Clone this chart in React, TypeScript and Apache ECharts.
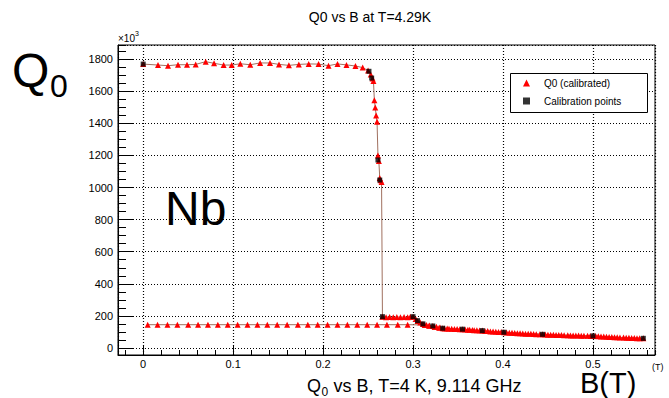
import React, { useEffect, useRef } from "react";
import * as echarts from "echarts";

const FONT = '"Liberation Sans", Arial, Helvetica, sans-serif';

// Axis ranges (B in tesla, Q0 in units of 10^3)
const X_MIN = -0.028;
const X_MAX = 0.569;
const Y_MIN = -44;
const Y_MAX = 1889;

// Q0 (calibrated): ramp up of B (superconducting plateau, transition, tail)
const upB = [
  0, 0.0165, 0.0276, 0.0387, 0.0487, 0.0584, 0.0695, 0.0788, 0.0894, 0.0984,
  0.108, 0.119, 0.13, 0.141, 0.151, 0.162, 0.173, 0.184, 0.195, 0.206, 0.216,
  0.226, 0.236, 0.244, 0.25, 0.253, 0.255, 0.256, 0.257, 0.258, 0.259, 0.26,
  0.261, 0.262, 0.263, 0.264, 0.265, 0.266, 0.27, 0.274, 0.278, 0.282, 0.286,
  0.29, 0.294, 0.297, 0.3, 0.303, 0.305, 0.308, 0.311, 0.315, 0.318, 0.322,
  0.326, 0.33, 0.333, 0.338, 0.343, 0.349, 0.355, 0.361, 0.366, 0.371, 0.377,
  0.383, 0.389, 0.395, 0.401, 0.407, 0.413, 0.419, 0.425, 0.431, 0.437, 0.444,
  0.45, 0.456, 0.462, 0.468, 0.475, 0.481, 0.487, 0.494, 0.5, 0.506, 0.512,
  0.518, 0.524, 0.53, 0.537, 0.543, 0.549, 0.556,
];
const upQ = [
  1770, 1764, 1760, 1766, 1766, 1768, 1785, 1775, 1764, 1764, 1772, 1766, 1777,
  1777, 1768, 1762, 1768, 1771, 1770, 1760, 1771, 1765, 1758, 1748, 1730, 1705,
  1680, 1665, 1545, 1500, 1450, 1410, 1200, 1165, 1060, 1045, 1035, 195, 192,
  193, 191, 193, 192, 193, 191, 194, 195, 180, 168, 158, 150, 143, 140, 137,
  132, 128, 123, 121, 119, 118, 117, 114, 112, 110, 108, 105, 102, 100, 98, 95,
  93, 91, 89, 88, 86, 85, 83, 82, 80, 79, 78, 77, 76, 76, 75, 73, 71, 69, 67,
  65, 64, 62, 61, 60,
];

// Q0 (calibrated): ramp down of B (tail back, then trapped-flux branch)
const downB = [
  0.552, 0.546, 0.54, 0.534, 0.527, 0.521, 0.515, 0.509, 0.503, 0.497, 0.49,
  0.484, 0.478, 0.472, 0.465, 0.459, 0.453, 0.447, 0.441, 0.434, 0.428, 0.422,
  0.416, 0.41, 0.404, 0.398, 0.392, 0.386, 0.38, 0.374, 0.368, 0.363, 0.358,
  0.352, 0.346, 0.34, 0.335, 0.329, 0.324, 0.318, 0.313, 0.294, 0.283, 0.271,
  0.26, 0.249, 0.238, 0.227, 0.216, 0.205, 0.194, 0.183, 0.172, 0.16, 0.149,
  0.138, 0.127, 0.116, 0.105, 0.094, 0.083, 0.072, 0.061, 0.05, 0.038, 0.027,
  0.016, 0.005,
];
const downQ = [
  61, 62, 63, 65, 66, 68, 70, 72, 74, 75, 76, 77, 78, 79, 80, 81, 83, 84, 86,
  87, 88, 90, 92, 94, 97, 99, 101, 103, 106, 109, 111, 113, 115, 117, 118, 120,
  122, 126, 130, 138, 143, 145, 145, 145, 145, 145, 145, 145, 145, 145, 145,
  145, 145, 145, 145, 145, 145, 145, 145, 145, 145, 145, 145, 145, 145, 145,
  145, 145,
];

// Calibration points
const calB = [
  0, 0.251, 0.254, 0.261, 0.263, 0.266, 0.3, 0.305, 0.311, 0.322, 0.333, 0.355,
  0.377, 0.401, 0.444, 0.5, 0.556,
];
const calQ = [
  1770, 1725, 1683, 1172, 1047, 195, 195, 170, 150, 137, 123, 117, 108, 98, 85,
  75, 60,
];

const SERIES_Q0 = "Q0 (calibrated)";
const SERIES_CAL = "Calibration points";

function buildOption(): echarts.EChartsOption {
  const q0Data: number[][] = [];
  upB.forEach((b, i) => q0Data.push([b, upQ[i]]));
  downB.forEach((b, i) => q0Data.push([b, downQ[i]]));
  const calData = calB.map((b, i) => [b, calQ[i]]);

  const black = "#000";
  const grid = { color: black, type: [1, 2] as number[], width: 1.2 };
  const text = (
    x: number,
    y: number,
    t: string,
    size: number,
    vAlign = "middle",
  ) => ({
    type: "text",
    x,
    y,
    silent: true,
    z: 6,
    style: {
      text: t,
      fill: black,
      font: `${size}px ${FONT}`,
      textAlign: "left",
      textVerticalAlign: vAlign,
    },
  });

  return {
    animation: false,
    backgroundColor: "#fff",
    title: {
      text: "Q0 vs B at T=4.29K",
      left: 370,
      top: 10,
      textAlign: "center",
      padding: 0,
      textStyle: { fontSize: 14, fontWeight: "normal", color: black, fontFamily: FONT },
    },
    grid: {
      left: 118,
      top: 45,
      right: 14,
      bottom: 43,
      show: true,
      borderColor: black,
      borderWidth: 1,
      backgroundColor: "transparent",
    },
    legend: {
      left: 523,
      top: 78,
      orient: "vertical",
      padding: 0,
      itemWidth: 7,
      itemHeight: 7,
      itemGap: 8,
      selectedMode: false,
      z: 10,
      textStyle: {
        fontSize: 10,
        color: black,
        fontFamily: FONT,
        lineHeight: 10,
        padding: [0, 0, 0, 9],
      },
      data: [
        { name: SERIES_Q0, icon: "triangle" },
        { name: SERIES_CAL, icon: "rect" },
      ],
    },
    xAxis: [
      {
        type: "value",
        min: X_MIN,
        max: X_MAX,
        splitNumber: 6,
        position: "bottom",
        axisLine: { show: true, onZero: false, lineStyle: { color: black, width: 1 } },
        axisTick: { show: true, inside: true, length: 9, lineStyle: { color: black } },
        axisLabel: {
          color: black,
          fontSize: 11,
          fontFamily: FONT,
          margin: 3,
          showMinLabel: false,
          showMaxLabel: false,
        },
        splitLine: { show: true, lineStyle: grid },
      },
      {
        type: "value",
        min: X_MIN,
        max: X_MAX,
        splitNumber: 30,
        position: "bottom",
        axisLine: { show: false, onZero: false },
        axisTick: { show: true, inside: true, length: 5, lineStyle: { color: black } },
        axisLabel: { show: false },
        splitLine: { show: false },
      },
    ],
    yAxis: [
      {
        type: "value",
        min: Y_MIN,
        max: Y_MAX,
        splitNumber: 10,
        position: "left",
        axisLine: { show: true, onZero: false, lineStyle: { color: black, width: 1 } },
        axisTick: { show: true, inside: true, length: 15, lineStyle: { color: black } },
        axisLabel: {
          color: black,
          fontSize: 11,
          fontFamily: FONT,
          margin: 5,
          showMinLabel: false,
          showMaxLabel: false,
          formatter: (v: number) => String(v),
        },
        splitLine: { show: true, lineStyle: grid },
      },
      {
        type: "value",
        min: Y_MIN,
        max: Y_MAX,
        splitNumber: 40,
        position: "left",
        axisLine: { show: false, onZero: false },
        axisTick: { show: true, inside: true, length: 8, lineStyle: { color: black } },
        axisLabel: { show: false },
        splitLine: { show: false },
      },
    ],
    series: [
      {
        name: SERIES_Q0,
        type: "line",
        xAxisIndex: 0,
        yAxisIndex: 0,
        data: q0Data,
        symbol: "triangle",
        symbolSize: 6,
        showSymbol: true,
        showAllSymbol: true,
        itemStyle: { color: "#ff0000" },
        lineStyle: { color: "#a0705f", width: 1 },
        emphasis: { disabled: true },
        z: 2,
      },
      {
        name: SERIES_CAL,
        type: "scatter",
        xAxisIndex: 0,
        yAxisIndex: 0,
        data: calData,
        symbol: "rect",
        symbolSize: 5,
        itemStyle: { color: black },
        emphasis: { disabled: true },
        z: 3,
      },
    ],
    graphic: [
      {
        type: "rect",
        z: 5,
        silent: true,
        shape: { x: 510.5, y: 73.5, width: 137, height: 39 },
        style: { fill: "#fff", stroke: black, lineWidth: 1 },
      },
      text(118, 38, "×10", 10),
      text(135, 33, "3", 7),
      text(12, 70, "Q", 48),
      text(50, 86, "0", 32),
      text(165, 208, "Nb", 48),
      text(580, 397, "B(T)", 29, "bottom"),
      text(652, 367, "(T)", 9),
      text(307, 386, "Q", 18),
      text(321.5, 392, "0", 12),
      text(328.5, 386, " vs B, T=4 K, 9.114 GHz", 18),
    ],
  } as echarts.EChartsOption;
}

export default function App() {
  const ref = useRef<HTMLDivElement>(null);
  useEffect(() => {
    document.body.style.margin = "0";
    if (!ref.current) return;
    const chart = echarts.init(ref.current, null, { renderer: "svg" });
    chart.setOption(buildOption());
    return () => chart.dispose();
  }, []);
  return <div ref={ref} style={{ width: 669, height: 398, background: "#fff" }} />;
}
